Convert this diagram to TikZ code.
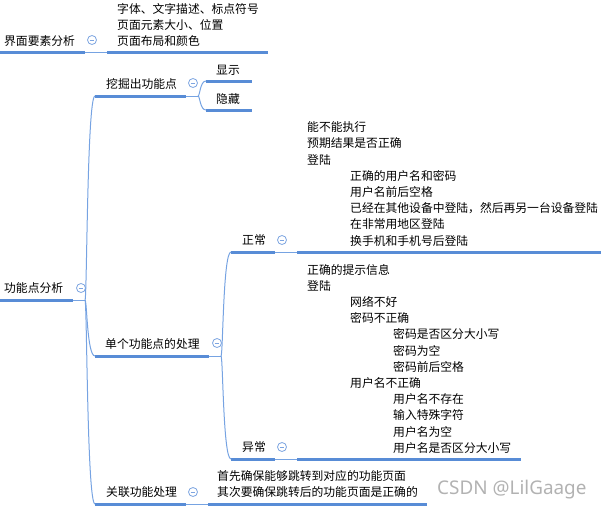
\documentclass[tikz,border=0pt]{standalone}
\usepackage{fontspec}
\newfontfamily\cjk{Noto Sans CJK SC}
\newfontfamily\markfont{Noto Sans}
\definecolor{thickblue}{RGB}{88,140,214}
\definecolor{thinblue}{RGB}{118,163,226}
\definecolor{foldblue}{RGB}{125,165,225}
\definecolor{markgray}{RGB}{178,178,178}
\tikzset{
  topic/.style={anchor=west, inner sep=0pt, font={\cjk\fontsize{11.8}{14}\selectfont}},
  under/.style={draw=thickblue, line width=3pt},
  link/.style={draw=thinblue, line width=1pt},
  fold/.style={circle, draw=foldblue, fill=white, line width=0.8pt, minimum size=9pt, inner sep=0pt,
    path picture={\draw[foldblue, line width=0.8pt]
      ([xshift=-2.3pt]path picture bounding box.center) -- ([xshift=2.3pt]path picture bounding box.center);}}
}
\begin{document}
\begin{tikzpicture}[x=1pt,y=-1pt]
\useasboundingbox (0,0) rectangle (601,511);

% ui check
\node[topic] (ui) at (4,41) {界面要素分析};
\node[fold] (ui-f) at (92,40) {};
\coordinate (ui-s) at (0,52);
\coordinate (ui-e) at (85,52);
\coordinate (uin-s) at (107,52);
\coordinate (uin-e) at (268,52);
\node[topic] (uin1) at (117,9) {字体、文字描述、标点符号};
\node[topic] (uin2) at (117,25) {页面元素大小、位置};
\node[topic] (uin3) at (117,41) {页面布局和颜色};
\draw[under] (ui-s) -- (ui-e);
\draw[link] (ui-e) -- (uin-s);
\draw[under] (uin-s) -- (uin-e);

% function points
\node[topic] (func) at (4,288) {功能点分析};
\node[fold] (func-f) at (81,288) {};
\coordinate (func-s) at (0,300);
\coordinate (func-e) at (73,300);
\coordinate (func-j) at (85,300);
\draw[under] (func-s) -- (func-e);
\draw[link] (func-e) -- (func-j);

% mine
\node[topic] (mine) at (106,84) {挖掘出功能点};
\node[fold] (mine-f) at (193,83) {};
\coordinate (mine-s) at (95,96);
\coordinate (mine-e) at (186,96);
\coordinate (mine-j) at (198,96);
\draw[under] (mine-s) -- (mine-e);
\draw[link] (mine-e) -- (mine-j);
\draw[link] (func-j) .. controls +(2,0) and +(-8,0) .. (mine-s);

\node[topic] (show) at (216,70) {显示};
\coordinate (show-s) at (206,81);
\coordinate (show-e) at (252,81);
\node[topic] (hide) at (216,99) {隐藏};
\coordinate (hide-s) at (206,110);
\coordinate (hide-e) at (252,110);
\draw[under] (show-s) -- (show-e);
\draw[under] (hide-s) -- (hide-e);
\draw[link] (mine-j) .. controls +(2,0) and +(-6,0) .. (show-s);
\draw[link] (mine-j) .. controls +(2,0) and +(-6,0) .. (hide-s);

% single point
\node[topic] (single) at (105,344) {单个功能点的处理};
\node[fold] (single-f) at (217,343) {};
\coordinate (single-s) at (95,356);
\coordinate (single-e) at (209,356);
\coordinate (single-j) at (221,356);
\draw[under] (single-s) -- (single-e);
\draw[link] (single-e) -- (single-j);
\draw[link] (func-j) .. controls +(2,0) and +(-8,0) .. (single-s);

% normal
\node[topic] (normal) at (242,240) {正常};
\node[fold] (normal-f) at (282,240) {};
\coordinate (normal-s) at (231,252);
\coordinate (normal-e) at (275,252);
\coordinate (normaln-s) at (297,252);
\coordinate (normaln-e) at (601,252);
\draw[under] (normal-s) -- (normal-e);
\draw[link] (normal-e) -- (normaln-s);
\draw[under] (normaln-s) -- (normaln-e);
\draw[link] (single-j) .. controls +(2,0) and +(-8,0) .. (normal-s);
\node[topic] (nn1) at (307,127.2) {能不能执行};
\node[topic] (nn2) at (307,143.4) {预期结果是否正确};
\node[topic] (nn3) at (307,159.6) {登陆};
\node[topic] (nn4) at (350,175.8) {正确的用户名和密码};
\node[topic] (nn5) at (350,192) {用户名前后空格};
\node[topic] (nn6) at (350,208.2) {已经在其他设备中登陆，然后再另一台设备登陆};
\node[topic] (nn7) at (350,224.4) {在非常用地区登陆};
\node[topic] (nn8) at (350,240.6) {换手机和手机号后登陆};

% abnormal
\node[topic] (abn) at (242,447) {异常};
\node[fold] (abn-f) at (282,447) {};
\coordinate (abn-s) at (231,459);
\coordinate (abn-e) at (275,459);
\coordinate (abnn-s) at (297,459);
\coordinate (abnn-e) at (521,459);
\draw[under] (abn-s) -- (abn-e);
\draw[link] (abn-e) -- (abnn-s);
\draw[under] (abnn-s) -- (abnn-e);
\draw[link] (single-j) .. controls +(2,0) and +(-8,0) .. (abn-s);
\node[topic] (an1) at (307,269.6) {正确的提示信息};
\node[topic] (an2) at (307,285.8) {登陆};
\node[topic] (an3) at (350,302) {网络不好};
\node[topic] (an4) at (350,318.2) {密码不正确};
\node[topic] (an5) at (393,334.4) {密码是否区分大小写};
\node[topic] (an6) at (393,350.6) {密码为空};
\node[topic] (an7) at (393,366.8) {密码前后空格};
\node[topic] (an8) at (350,383) {用户名不正确};
\node[topic] (an9) at (393,399.2) {用户名不存在};
\node[topic] (an10) at (393,415.4) {输入特殊字符};
\node[topic] (an11) at (393,431.6) {用户名为空};
\node[topic] (an12) at (393,447.8) {用户名是否区分大小写};

% linked functions
\node[topic] (assoc) at (106,492) {关联功能处理};
\node[fold] (assoc-f) at (193,492) {};
\coordinate (assoc-s) at (95,504);
\coordinate (assoc-e) at (186,504);
\coordinate (assocn-s) at (208,504);
\coordinate (assocn-e) at (427,504);
\draw[under] (assoc-s) -- (assoc-e);
\draw[link] (assoc-e) -- (assocn-s);
\draw[under] (assocn-s) -- (assocn-e);
\draw[link] (func-j) .. controls +(2,0) and +(-8,0) .. (assoc-s);
\node[topic] (asn1) at (217,476) {首先确保能够跳转到对应的功能页面};
\node[topic] (asn2) at (217,492) {其次要确保跳转后的功能页面是正确的};

\node[anchor=west, inner sep=0pt, text=markgray, font={\markfont\fontsize{18.9}{19}\selectfont}] (mark) at (437,490) {CSDN @LilGaage};
\end{tikzpicture}
\end{document}
